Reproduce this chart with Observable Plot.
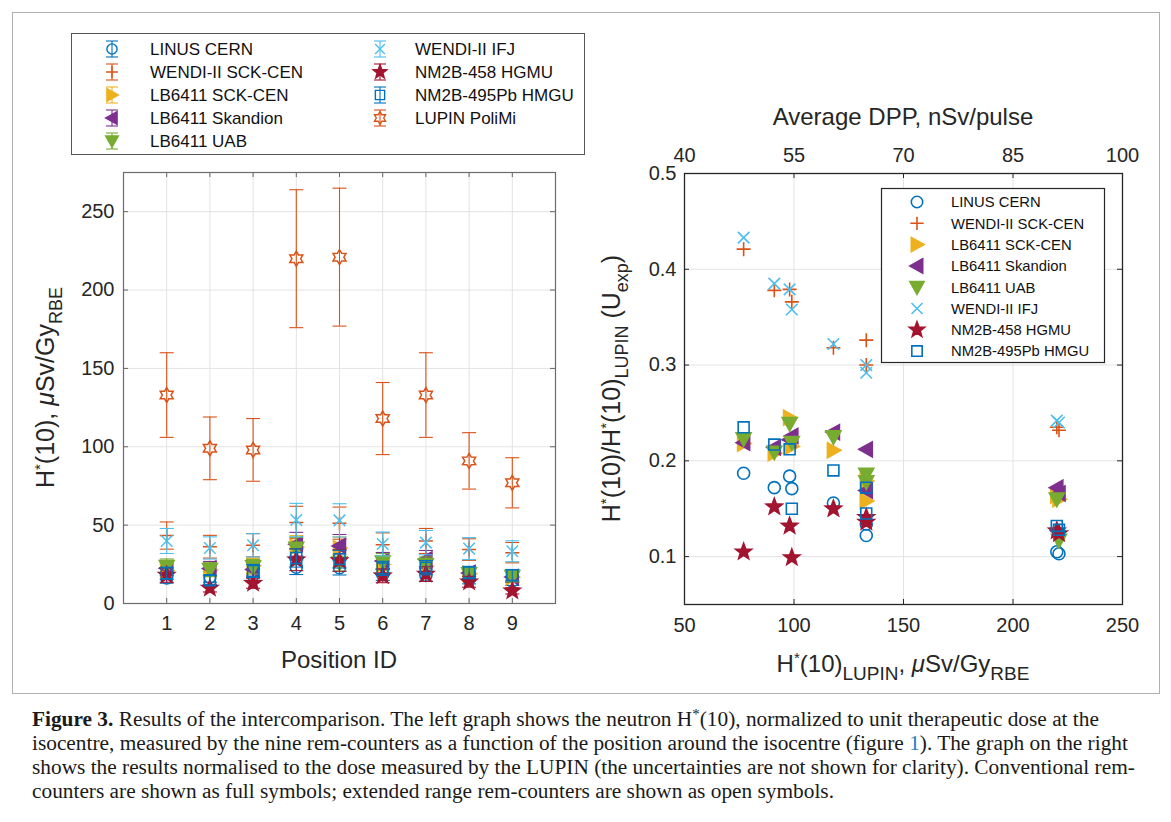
<!DOCTYPE html>
<html><head><meta charset="utf-8">
<script src="https://cdn.jsdelivr.net/npm/d3@7"></script>
<script src="https://cdn.jsdelivr.net/npm/@observablehq/plot@0.6"></script>
<style>
body{margin:0;background:#fff;}
#fig{position:relative;width:1171px;height:822px;overflow:hidden;font-family:"Liberation Sans",Arial,sans-serif;}
#left,#right,#deco{position:absolute;top:0;}
#left{left:0}
#right{left:600px}
#deco{left:0;pointer-events:none}
#caption{position:absolute;left:32px;top:707px;width:1120px;font-family:"Liberation Serif","Times New Roman",serif;font-size:21px;line-height:24px;color:#1a1a1a;white-space:nowrap;}
#caption sup{font-size:0.7em;vertical-align:0.45em;line-height:0}
#caption .lnk{color:#1f7fc1}
</style>
</head><body>
<div id="fig">
<svg id="deco" width="1171" height="822"></svg>
<div id="left"></div><div id="right"></div>
<div id="caption"><span class="ln"><b>Figure 3.</b> Results of the intercomparison. The left graph shows the neutron H<sup>*</sup>(10), normalized to unit therapeutic dose at the</span><br><span class="ln" id="ln2">isocentre, measured by the nine rem-counters as a function of the position around the isocentre (figure <span class="lnk">1</span>). The graph on the right</span><br><span class="ln">shows the results normalised to the dose measured by the LUPIN (the uncertainties are not shown for clarity). Conventional rem-</span><br><span class="ln">counters are shown as full symbols; extended range rem-counters are shown as open symbols.</span></div>
</div>
<script>
// ---------------- data ----------------
const positions = [1, 2, 3, 4, 5, 6, 7, 8, 9];
const lupinValues = [133, 99, 98, 220, 221, 118, 133, 91, 77];
const lupinErr = [27, 20, 20, 44, 44, 23, 27, 18, 16];

const detectorNames = ["LINUS CERN", "WENDI-II SCK-CEN", "LB6411 SCK-CEN", "LB6411 Skandion",
  "LB6411 UAB", "WENDI-II IFJ", "NM2B-458 HGMU", "NM2B-495Pb HMGU"];
const lupinName = "LUPIN PoliMi";

// ratio H*(10)/H*(10)_LUPIN per position 1..9
const ratioLINUS      = [0.122, 0.171, 0.184, 0.105, 0.103, 0.156, 0.134, 0.172, 0.187];
const ratioWendiSCK   = [0.326, 0.366, 0.379, 0.235, 0.232, 0.318, 0.300, 0.378, 0.421];
const ratioLbSCK      = [0.158, 0.215, 0.245, 0.164, 0.160, 0.211, 0.179, 0.208, 0.218];
const ratioLbSkandion = [0.169, 0.226, 0.222, 0.172, 0.166, 0.230, 0.212, 0.214, 0.219];
const ratioLbUAB      = [0.178, 0.219, 0.239, 0.160, 0.117, 0.225, 0.186, 0.209, 0.223];
const ratioWendiIFJ   = [0.300, 0.358, 0.379, 0.242, 0.240, 0.322, 0.292, 0.385, 0.433];
const ratioNM458      = [0.136, 0.099, 0.132, 0.127, 0.124, 0.150, 0.141, 0.152, 0.105];
const ratioNM495      = [0.145, 0.150, 0.212, 0.132, 0.128, 0.190, 0.172, 0.217, 0.235];
// relative uncertainty of each rem-counter
const relUncert = [0.20, 0.20, 0.20, 0.20, 0.20, 0.20, 0.25, 0.20];

const leftYTicks = [0, 50, 100, 150, 200, 250];
const rightXTicks = [50, 100, 150, 200, 250];
const rightYTicks = [0.1, 0.2, 0.3, 0.4, 0.5];
const dppTickLabels = ["40", "55", "70", "85", "100"];

// ---------------- symbols ----------------
function sym(fn){return {draw(c, size){const r = Math.sqrt(size/Math.PI); fn(c, r);}};}
const symCircle = sym((c,r)=>{c.moveTo(r,0); c.arc(0,0,r,0,2*Math.PI);});
const symPlus = sym((c,r)=>{c.moveTo(-r,0); c.lineTo(r,0); c.moveTo(0,-r); c.lineTo(0,r);});
const symTimes = sym((c,r)=>{const a=r*0.72; c.moveTo(-a,-a); c.lineTo(a,a); c.moveTo(-a,a); c.lineTo(a,-a);});
const symTriR = sym((c,r)=>{c.moveTo(-r*0.8,-r); c.lineTo(r,0); c.lineTo(-r*0.8,r); c.closePath();});
const symTriL = sym((c,r)=>{c.moveTo(r*0.8,-r); c.lineTo(-r,0); c.lineTo(r*0.8,r); c.closePath();});
const symTriD = sym((c,r)=>{c.moveTo(-r,-r*0.8); c.lineTo(r,-r*0.8); c.lineTo(0,r); c.closePath();});
const symStar = sym((c,r)=>{for(let i=0;i<10;i++){const a=-Math.PI/2+i*Math.PI/5, rr=i%2?r*0.42:r; if(i) c.lineTo(rr*Math.cos(a),rr*Math.sin(a)); else c.moveTo(rr*Math.cos(a),rr*Math.sin(a));} c.closePath();});
const symSquare = sym((c,r)=>{const a=r*0.78; c.rect(-a,-a,2*a,2*a);});
const symHexagram = sym((c,r)=>{for(let i=0;i<12;i++){const a=-Math.PI/2+i*Math.PI/6, rr=i%2?r*0.58:r; if(i) c.lineTo(rr*Math.cos(a),rr*Math.sin(a)); else c.moveTo(rr*Math.cos(a),rr*Math.sin(a));} c.closePath();});
const symCap = sym((c,r)=>{c.moveTo(-r,0); c.lineTo(r,0);});

const colors = ["#0072BD", "#D95319", "#EDB120", "#7E2F8E", "#77AC30", "#4DBEEE", "#A2142F", "#0072BD"];
const lupinColor = "#D95319";
const symbols = [symCircle, symPlus, symTriR, symTriL, symTriD, symTimes, symStar, symSquare];
const filled = [false, false, true, true, true, false, true, false];
const sizes = [6, 7, 7.5, 7.5, 7.5, 8, 8.5, 7];

const ratios = [ratioLINUS, ratioWendiSCK, ratioLbSCK, ratioLbSkandion, ratioLbUAB, ratioWendiIFJ, ratioNM458, ratioNM495];
const series = detectorNames.map((name, k) => positions.map((p, i) => {
  const v = ratios[k][i] * lupinValues[i];
  return {name, pos: p, lupin: lupinValues[i], ratio: ratios[k][i], value: v,
          lo: v * (1 - relUncert[k]), hi: v * (1 + relUncert[k])};
}));
const lupinRows = positions.map((p, i) => ({pos: p, value: lupinValues[i], lo: lupinValues[i] - lupinErr[i], hi: lupinValues[i] + lupinErr[i]}));

const FONT = "'Liberation Sans', Arial, Helvetica, sans-serif";
const INK = "#262626";
const GRID = "#e3e3e3";

function errMarks(rows, color, symbol, r, fill){
  return [
    Plot.ruleX(rows, {x: "pos", y1: "lo", y2: "hi", stroke: color, strokeWidth: 1.1}),
    Plot.dot(rows, {x: "pos", y: "lo", symbol: symCap, r: 7, stroke: color, strokeWidth: 1.1, fill: "none"}),
    Plot.dot(rows, {x: "pos", y: "hi", symbol: symCap, r: 7, stroke: color, strokeWidth: 1.1, fill: "none"}),
    Plot.dot(rows, {x: "pos", y: "value", symbol, r, stroke: color, strokeWidth: 1.5, fill: fill ? color : "none"})
  ];
}

// ---------------- left chart ----------------
const LW = 600, LH = 700;
const Lm = {left: 123, right: 45, top: 172, bottom: 97};
const LfH = LH - Lm.top - Lm.bottom, LfW = LW - Lm.left - Lm.right;
const leftPlot = Plot.plot({
  width: LW, height: LH,
  marginLeft: Lm.left, marginRight: Lm.right, marginTop: Lm.top, marginBottom: Lm.bottom,
  x: {domain: [0, 10]}, y: {domain: [0, 275]},
  style: {fontFamily: FONT, fontSize: "20px", color: INK, background: "transparent", overflow: "visible"},
  marks: [
    Plot.gridX(positions, {stroke: GRID, strokeOpacity: 1, strokeWidth: 1}),
    Plot.gridY(leftYTicks.slice(1), {stroke: GRID, strokeOpacity: 1, strokeWidth: 1}),
    Plot.ruleX(positions, {insetTop: LfH - 5, stroke: "#666"}),
    Plot.ruleX(positions, {insetBottom: LfH - 5, stroke: "#666"}),
    Plot.ruleY(leftYTicks, {insetLeft: LfW - 5, stroke: "#666"}),
    Plot.ruleY(leftYTicks, {insetRight: LfW - 5, stroke: "#666"}),
    Plot.axisX(positions, {tickSize: 0, tickPadding: 12, label: null, fill: INK}),
    Plot.axisY(leftYTicks, {tickSize: 0, tickPadding: 9, label: null, fill: INK}),
    ...series.flatMap((rows, k) => errMarks(rows, colors[k], symbols[k], sizes[k], filled[k])),
    ...errMarks(lupinRows, lupinColor, symHexagram, 7.5, false),
    Plot.frame({stroke: "#6b6b6b", strokeWidth: 1.2})
  ]
});
document.getElementById("left").append(leftPlot);

// ---------------- right chart ----------------
const RW = 571, RH = 700;
const Rm = {left: 84, right: 49, top: 173, bottom: 96};
const RfH = RH - Rm.top - Rm.bottom, RfW = RW - Rm.left - Rm.right;
const rightPlot = Plot.plot({
  width: RW, height: RH,
  marginLeft: Rm.left, marginRight: Rm.right, marginTop: Rm.top, marginBottom: Rm.bottom,
  x: {domain: [50, 250]}, y: {domain: [0.05, 0.5]},
  style: {fontFamily: FONT, fontSize: "20px", color: INK, background: "transparent", overflow: "visible"},
  marks: [
    Plot.gridX([100, 150, 200], {stroke: GRID, strokeOpacity: 1}),
    Plot.gridY([0.1, 0.2, 0.3, 0.4], {stroke: GRID, strokeOpacity: 1}),
    Plot.ruleX(rightXTicks, {insetTop: RfH - 5, stroke: INK}),
    Plot.ruleX(rightXTicks, {insetBottom: RfH - 5, stroke: INK}),
    Plot.ruleY(rightYTicks, {insetLeft: RfW - 5, stroke: INK}),
    Plot.ruleY(rightYTicks, {insetRight: RfW - 5, stroke: INK}),
    Plot.axisX(rightXTicks, {anchor: "bottom", tickSize: 0, tickPadding: 13, label: null, fill: INK}),
    Plot.axisX(rightXTicks, {anchor: "top", tickSize: 0, tickPadding: 12, label: null, fill: INK,
      tickFormat: (d, i) => dppTickLabels[i]}),
    Plot.axisY(rightYTicks, {tickSize: 0, tickPadding: 8, label: null, fill: INK, tickFormat: d => String(d)}),
    ...series.map((rows, k) => Plot.dot(rows, {x: "lupin", y: "ratio", symbol: symbols[k], r: sizes[k],
      stroke: colors[k], strokeWidth: 1.6, fill: filled[k] ? colors[k] : "none"})),
    Plot.frame({stroke: INK, strokeWidth: 1.3})
  ]
});
document.getElementById("right").append(rightPlot);

// ---------------- rich-text labels & legends ----------------
function richText(g, parts, attrs, subSize){
  const t = g.append("text").attr("font-family", FONT).attr("fill", INK);
  for (const [k, v] of Object.entries(attrs)) t.attr(k, v);
  let shift = 0;
  for (const p of parts) {
    const s = t.append("tspan").text(p.t);
    const target = p.sup ? -9 : p.sub ? 8 : 0;
    if (target !== shift) { s.attr("dy", target - shift); shift = target; }
    if (p.sup) s.attr("font-size", 15);
    if (p.sub) s.attr("font-size", subSize || 18);
    if (p.it) s.attr("font-style", "italic");
  }
  return t;
}
const L = d3.select(leftPlot);
const R = d3.select(rightPlot);

richText(L, [{t:"H"},{t:"*",sup:1},{t:"(10), "},{t:"μ",it:1},{t:"Sv/Gy"},{t:"RBE",sub:1}],
  {"font-size": 25, "text-anchor": "middle", transform: `translate(54,${Lm.top + LfH/2}) rotate(-90)`});
richText(L, [{t:"Position ID"}], {"font-size": 24, "text-anchor": "middle", x: Lm.left + LfW/2, y: 668});

richText(R, [{t:"H"},{t:"*",sup:1},{t:"(10)/H"},{t:"*",sup:1},{t:"(10)"},{t:"LUPIN",sub:1},{t:" (U"},{t:"exp",sub:1},{t:")"}],
  {"font-size": 25, "text-anchor": "middle", transform: `translate(20,${Rm.top + RfH/2}) rotate(-90)`}, 18);
richText(R, [{t:"H"},{t:"*",sup:1},{t:"(10)"},{t:"LUPIN",sub:1},{t:", "},{t:"μ",it:1},{t:"Sv/Gy"},{t:"RBE",sub:1}],
  {"font-size": 24, "text-anchor": "middle", x: Rm.left + RfW/2, y: 672}, 19);
richText(R, [{t:"Average DPP, nSv/pulse"}], {"font-size": 24, "text-anchor": "middle", x: Rm.left + RfW/2, y: 125});

function legendSym(g, symbol, r, x, y, color, fill, sw){
  g.append("path").attr("transform", `translate(${x},${y})`)
    .attr("d", d3.symbol(symbol, Math.PI*r*r)())
    .attr("fill", fill ? color : "none").attr("stroke", color).attr("stroke-width", sw);
}

// left legend
{
  const g = L.append("g");
  g.append("rect").attr("x", 71.5).attr("y", 33.5).attr("width", 513).attr("height", 121)
    .attr("fill", "#fff").attr("stroke", "#555").attr("stroke-width", 1);
  const entries = detectorNames.map((n, k) => ({n, sym: symbols[k], c: colors[k], f: filled[k], r: sizes[k]}));
  entries.push({n: lupinName, sym: symHexagram, c: lupinColor, f: false, r: 7.5});
  entries.forEach((e, j) => {
    const col = j < 5 ? 0 : 1, row = j < 5 ? j : j - 5;
    const mx = col ? 380 : 112, tx = col ? 415 : 150, y = 49 + row * 23;
    g.append("line").attr("x1", mx).attr("x2", mx).attr("y1", y - 8).attr("y2", y + 8).attr("stroke", e.c).attr("stroke-width", 1.1);
    g.append("line").attr("x1", mx - 6).attr("x2", mx + 6).attr("y1", y - 8).attr("y2", y - 8).attr("stroke", e.c).attr("stroke-width", 1.1);
    g.append("line").attr("x1", mx - 6).attr("x2", mx + 6).attr("y1", y + 8).attr("y2", y + 8).attr("stroke", e.c).attr("stroke-width", 1.1);
    legendSym(g, e.sym, e.r * 0.85, mx, y, e.c, e.f, 1.4);
    g.append("text").attr("x", tx).attr("y", y).attr("dy", "0.36em").attr("font-size", 17)
      .attr("text-anchor", "start").attr("font-family", FONT).attr("fill", "#111").text(e.n);
  });
}
// right legend
{
  const g = R.append("g");
  g.append("rect").attr("x", 881.5 - 600).attr("y", 188.5).attr("width", 223).attr("height", 174)
    .attr("fill", "#fff").attr("stroke", INK).attr("stroke-width", 1.2);
  detectorNames.forEach((n, k) => {
    const y = 202 + k * 21.3, mx = 917 - 600, tx = 951 - 600;
    legendSym(g, symbols[k], sizes[k] * 0.95, mx, y, colors[k], filled[k], 1.6);
    g.append("text").attr("x", tx).attr("y", y).attr("dy", "0.36em").attr("font-size", 14.8)
      .attr("text-anchor", "start").attr("font-family", FONT).attr("fill", "#111").text(n);
  });
}

// figure frame
{
  const d = d3.select("#deco");
  d.append("rect").attr("x", 12.5).attr("y", 12.5).attr("width", 1147).attr("height", 681)
    .attr("fill", "none").attr("stroke", "#b0b0b0").attr("stroke-width", 1);
}

// fit caption font so the second line spans the reference width
{
  const cap = document.getElementById("caption");
  const ln2 = document.getElementById("ln2");
  const w = ln2.getBoundingClientRect().width;
  if (w > 0) cap.style.fontSize = (21 * 1096 / w).toFixed(2) + "px";
}
</script>
</body></html>
